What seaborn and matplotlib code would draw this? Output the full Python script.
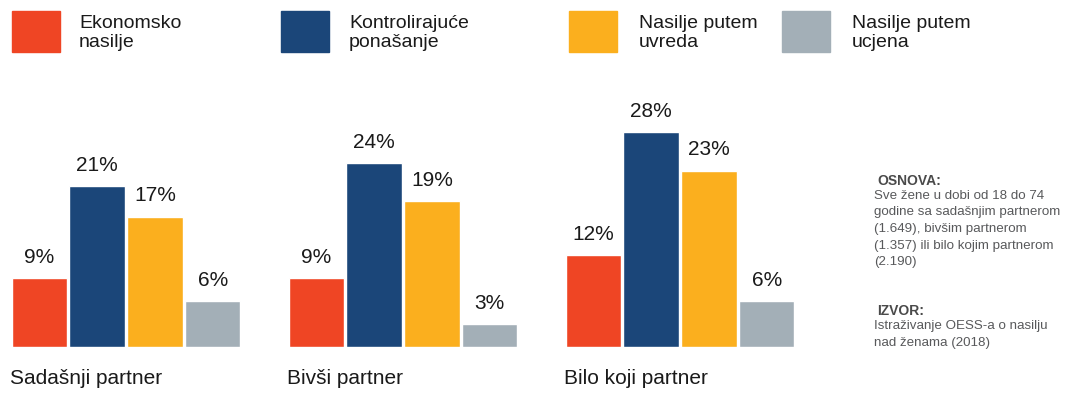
import numpy as np
import pandas as pd
import matplotlib.pyplot as plt
import seaborn as sns
from matplotlib.patches import Rectangle

# data
partners = ['Sadašnji partner', 'Bivši partner', 'Bilo koji partner']
violence_types = ['Ekonomsko\nnasilje', 'Kontrolirajuće\nponašanje',
                  'Nasilje putem\nuvreda', 'Nasilje putem\nucjena']
ekonomsko = [9, 9, 12]
kontrola = [21, 24, 28]
uvrede = [17, 19, 23]
ucjene = [6, 3, 6]
colors = ['#EF4524', '#1B4679', '#FBAF1E', '#A3AFB7']

note_osnova = ('Sve žene u dobi od 18 do 74\ngodine sa sadašnjim partnerom\n'
               '(1.649), bivšim partnerom\n(1.357) ili bilo kojim partnerom\n(2.190)')
note_izvor = 'Istraživanje OESS-a o nasilju\nnad ženama (2018)'

df = pd.DataFrame({
    'partner': partners * 4,
    'type': np.repeat(violence_types, 3),
    'value': ekonomsko + kontrola + uvrede + ucjene,
})

sns.set_theme(style='white')
plt.rcParams['font.family'] = ['Liberation Sans', 'DejaVu Sans']

W, H = 1070, 415
fig = plt.figure(figsize=(W / 100, H / 100), dpi=100)

# axes spans px 0..860 horizontally, 70..347 vertically
ax = fig.add_axes([0, (H - 347) / H, 860 / W, 277 / H])
width = 0.834
sns.barplot(data=df, x='partner', y='value', hue='type', hue_order=violence_types,
            palette=colors, width=width, gap=0.04, saturation=1, legend=False, ax=ax)

for cont in ax.containers:
    ax.bar_label(cont, fmt='{:g}%', padding=8, fontsize=15, color='#1a1a1a')

ax.set_xlim(-126 / 277, (860 - 126) / 277)
ax.set_ylim(0, 277 / 7.67)
ax.set_xticks(np.arange(len(partners)) - width / 2)
ax.set_xticklabels(partners, ha='left', fontsize=15, color='#1a1a1a')
ax.tick_params(axis='x', length=0, pad=16)
ax.set_yticks([])
ax.set_xlabel('')
ax.set_ylabel('')
for s in ax.spines.values():
    s.set_visible(False)

# legend drawn by hand in figure pixels
sq_x = [12, 281, 569, 782]
txt_x = [79, 349, 639, 852]
for lbl, c, sx, tx in zip(violence_types, colors, sq_x, txt_x):
    fig.patches.append(Rectangle((sx / W, 1 - 52 / H), 48 / W, 41 / H,
                                 transform=fig.transFigure, color=c))
    fig.text(tx / W, 1 - 33 / H, lbl, fontsize=14, va='center', ha='left',
             linespacing=1.2, color='#1a1a1a')

# source notes on the right
note_c = '#58595b'
fig.text(877 / W, 1 - 181 / H, 'OSNOVA:', fontsize=10, fontweight='bold',
         va='center', color='#4a4a4a')
fig.text(874 / W, 1 - 190 / H, note_osnova, fontsize=9.6, va='top',
         linespacing=1.5, color=note_c)
fig.text(877 / W, 1 - 311 / H, 'IZVOR:', fontsize=10, fontweight='bold',
         va='center', color='#4a4a4a')
fig.text(874 / W, 1 - 320 / H, note_izvor, fontsize=9.6, va='top',
         linespacing=1.5, color=note_c)

fig.savefig('out.png', dpi=100)
